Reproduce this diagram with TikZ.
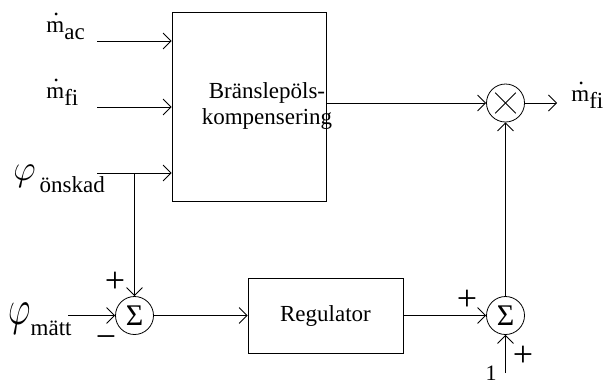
\documentclass[tikz,border=0pt]{standalone}
\usepackage{fontspec}
\setmainfont{Liberation Serif}
\usetikzlibrary{arrows.meta,positioning,calc}

% mass flow with its dot and a lowered index
\newcommand{\mflow}[1]{\rlap{\hspace{0.3em}\smash{\raisebox{0.72em}{.}}}m\raisebox{-7pt}{#1}}
\newcommand{\bigphi}[1][1.45]{\scalebox{1.4}[#1]{$\varphi$}}

\begin{document}
\begin{tikzpicture}[x=1pt,y=-1pt,line width=0.8pt,
    >={Straight Barb[length=8pt,width=16pt]},
    block/.style={draw,inner sep=0pt},
    sumnode/.style={circle,draw,inner sep=0pt,minimum size=38pt,
      font=\fontsize{30}{30}\selectfont},
    lbl/.style={inner sep=0pt,anchor=base west,font=\fontsize{23}{27}\selectfont},
    sign/.style={inner sep=0pt,font=\fontsize{36}{36}\selectfont}]
  \useasboundingbox (0,0) rectangle (610,384);

  % blocks
  \node[block,minimum width=154pt,minimum height=189pt] (komp) at (249,106.5) {};
  \node[align=center,font=\fontsize{23}{26}\selectfont] (kompTxt) at (267,106) {Bränslepöls-\\kompensering};
  \node[block,minimum width=155pt,minimum height=75pt,font=\fontsize{23}{26}\selectfont] (reg) at (325.5,315.5) {Regulator};

  % summation points and multiplier
  \node[sumnode] (sum1) at (134.5,315.5) {\raisebox{-1pt}{Σ}};
  \node[sumnode] (sum2) at (505.5,315.5) {\raisebox{-1pt}{Σ}};
  \node[sumnode] (mult) at (505.5,103) {};
  \draw[shorten <=4.8pt,shorten >=4.8pt] (mult.north east) -- (mult.south west);
  \draw[shorten <=4.8pt,shorten >=4.8pt] (mult.north west) -- (mult.south east);

  % input signals
  \coordinate (inAc) at (97,41);
  \coordinate (inFi) at (97,107);
  \coordinate (inOn) at (97,173);
  \coordinate (inMa) at (68,315.5);
  \coordinate (br) at (sum1 |- inOn);
  \coordinate (one) at (505.5,373);
  \coordinate (out) at (557,103);

  \node[lbl] (lAc) at (46,32) {\mflow{ac}};
  \node[lbl] (lFi) at (46,98) {\mflow{fi}};
  \node[lbl] (lOn) at (13,180) {\bigphi\hspace{4pt}\raisebox{-12pt}{önskad}};
  \node[lbl] (lMa) at (8,324) {\bigphi[2]\raisebox{-11pt}{mätt}};
  \node[lbl] (lOut) at (571,101) {\mflow{fi}};

  % signs at the summation points
  \node[sign] (p1) at (115,282) {+};
  \node[sign] (m1) at (106,342) {−};
  \node[sign] (p2) at (467,300) {+};
  \node[sign] (p3) at (523,356) {+};
  \node[inner sep=0pt,font=\fontsize{22}{22}\selectfont] (lOne) at (491,373) {1};

  % connections
  \draw[->] (inAc) -- (inAc -| komp.west);
  \draw[->] (inFi) -- (inFi -| komp.west);
  \draw[->] (inOn) -- (inOn -| komp.west);
  \draw[->] (br) -- (sum1);
  \draw[->] (inMa) -- (sum1);
  \draw[->] (sum1) -- (reg);
  \draw[->] (reg) -- (sum2);
  \draw[->] (one) -- (sum2);
  \draw[->] (sum2) -- (mult);
  \draw[->] (komp.east |- mult) -- (mult);
  \draw[->] (mult) -- (out);
\end{tikzpicture}
\end{document}
